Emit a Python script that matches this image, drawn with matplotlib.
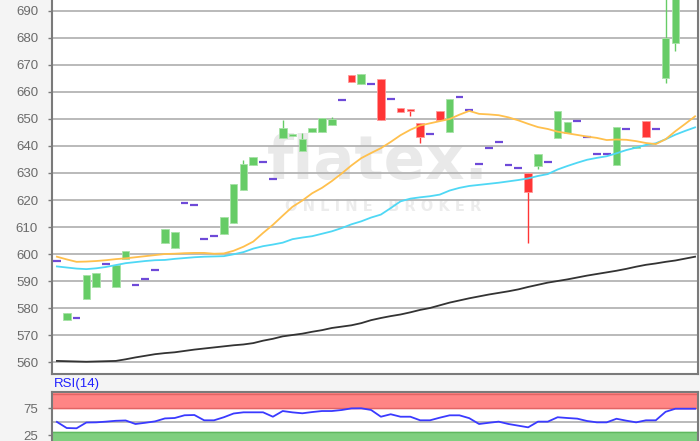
import numpy as np
import matplotlib
matplotlib.use("Agg")
import matplotlib.pyplot as plt

# =====================================================================
# DADOS
# =====================================================================
# OHLC por pregão; barras "traço" (o == h == l == c) viram traços roxos
opens = [597.5, 575.6, 576.4, 583.3, 587.9, 596.2, 587.9, 598.1, 588.4, 590.7,
         594.0, 604.0, 602.1, 618.8, 618.1, 605.6, 606.6, 607.4, 611.4, 623.7,
         633.0, 634.1, 627.9, 643.1, 643.8, 638.3, 645.3, 645.0, 647.8, 657.0,
         666.3, 663.0, 663.0, 664.8, 657.4, 654.2, 653.7, 648.6, 644.6, 653.0,
         645.3, 658.0, 653.2, 633.5, 639.3, 641.3, 633.0, 632.0, 630.1, 632.6,
         634.1, 643.1, 644.7, 649.4, 643.2, 636.9, 636.9, 633.0, 646.2, 639.4,
         649.3, 646.2, 665.1, 678.0]
highs = [597.5, 578.0, 576.4, 592.2, 592.8, 596.2, 596.0, 601.0, 588.4, 590.7,
         594.0, 609.1, 608.0, 618.8, 618.1, 605.6, 606.6, 613.6, 626.0, 634.8,
         636.0, 634.1, 627.9, 649.6, 644.3, 644.7, 646.5, 650.5, 650.6, 657.0,
         666.3, 666.7, 663.0, 664.8, 657.4, 654.2, 653.7, 648.6, 644.6, 653.0,
         657.3, 658.0, 653.2, 633.5, 639.3, 641.3, 633.0, 632.0, 630.1, 636.9,
         634.1, 653.0, 649.0, 649.4, 643.2, 636.9, 636.9, 647.2, 646.2, 640.1,
         649.3, 646.2, 697.0, 705.0]
lows = [597.5, 575.6, 576.4, 583.3, 587.9, 596.2, 587.9, 598.1, 588.4, 590.7,
        594.0, 604.0, 602.1, 618.8, 618.1, 605.6, 606.6, 607.4, 611.4, 623.7,
        633.0, 634.1, 627.9, 643.1, 643.8, 638.3, 645.3, 645.0, 647.8, 657.0,
        663.6, 663.0, 663.0, 649.6, 657.4, 652.5, 651.1, 641.0, 644.6, 649.6,
        645.3, 658.0, 653.2, 633.5, 639.3, 641.3, 633.0, 632.0, 604.2, 631.4,
        634.1, 643.1, 644.7, 649.4, 643.2, 636.9, 636.9, 633.0, 646.2, 639.4,
        643.4, 646.2, 663.2, 675.0]
closes = [597.5, 578.0, 576.4, 592.2, 592.8, 596.2, 596.0, 601.0, 588.4, 590.7,
          594.0, 609.1, 608.0, 618.8, 618.1, 605.6, 606.6, 613.6, 626.0, 633.2,
          636.0, 634.1, 627.9, 646.5, 644.3, 642.7, 646.5, 650.5, 649.9, 657.0,
          663.6, 666.7, 663.0, 649.6, 657.4, 652.5, 653.1, 643.4, 644.6, 649.6,
          657.3, 658.0, 653.2, 633.5, 639.3, 641.3, 633.0, 632.0, 622.9, 636.9,
          634.1, 653.0, 649.0, 649.4, 643.2, 636.9, 636.9, 647.2, 646.2, 640.1,
          643.4, 646.2, 679.9, 700.0]

# médias móveis (66 pontos, os dois últimos pregões estão fora da escala)
ma_orange = [599.0, 598.0, 597.1, 597.2, 597.4, 597.7, 598.1, 598.4, 598.8, 599.2,
             599.6, 600.0, 600.1, 600.3, 600.4, 600.4, 600.1, 600.2, 601.2, 602.7,
             604.6, 607.8, 610.8, 614.2, 617.5, 619.8, 622.5, 624.5, 627.0, 629.8,
             632.8, 635.5, 637.4, 639.2, 641.5, 644.0, 646.0, 647.6, 648.4, 649.2,
             650.0, 651.6, 653.0, 651.9, 651.7, 651.4, 650.6, 649.5, 648.2, 647.0,
             646.3, 645.3, 644.7, 644.1, 643.5, 643.0, 642.2, 642.4, 642.3, 641.8,
             641.1, 640.7, 642.5, 645.5, 648.2, 651.0]
ma_cyan = [595.4, 595.0, 594.6, 594.4, 594.7, 595.2, 595.9, 596.6, 597.0, 597.4,
           597.7, 597.8, 598.2, 598.5, 598.8, 599.0, 599.1, 599.2, 599.9, 600.7,
           602.0, 602.9, 603.5, 604.2, 605.5, 606.1, 606.6, 607.5, 608.4, 609.6,
           611.0, 612.1, 613.5, 614.6, 617.0, 619.5, 620.5, 621.0, 621.4, 622.0,
           623.5, 624.5, 625.2, 625.6, 626.0, 626.4, 626.9, 627.4, 628.0, 628.9,
           629.6, 631.3, 632.6, 633.8, 634.9, 635.6, 636.2, 637.3, 638.5, 639.4,
           640.4, 641.0, 642.5, 644.2, 645.6, 646.9]
ma_black = [560.4, 560.3, 560.2, 560.1, 560.2, 560.3, 560.4, 561.0, 561.7, 562.3,
            562.9, 563.3, 563.6, 564.1, 564.6, 565.0, 565.4, 565.8, 566.2, 566.5,
            567.0, 567.9, 568.6, 569.5, 570.0, 570.5, 571.2, 571.8, 572.6, 573.1,
            573.6, 574.4, 575.5, 576.3, 577.0, 577.6, 578.4, 579.3, 580.0, 581.0,
            582.0, 582.8, 583.6, 584.3, 585.0, 585.6, 586.2, 586.9, 587.8, 588.6,
            589.4, 590.0, 590.6, 591.3, 592.0, 592.6, 593.2, 593.8, 594.5, 595.3,
            596.0, 596.5, 597.1, 597.6, 598.3, 599.0]

rsi = [49.6, 38.2, 37.7, 48.5, 48.8, 50.1, 51.7, 52.3, 45.7, 48.0,
       50.6, 56.1, 56.9, 62.0, 62.5, 52.6, 52.6, 58.3, 65.3, 67.5,
       67.5, 67.5, 59.3, 69.9, 67.4, 65.7, 68.0, 69.9, 69.9, 71.8,
       74.8, 75.0, 71.9, 59.3, 63.9, 59.3, 59.3, 52.6, 52.6, 57.5,
       61.9, 61.9, 56.6, 45.7, 48.0, 50.1, 45.7, 42.6, 39.5, 50.1,
       50.1, 58.3, 56.9, 55.7, 51.3, 48.8, 48.8, 55.5, 51.9, 48.8,
       52.6, 52.6, 68.5, 74.2, 74.2, 74.2]

main_ticks = list(range(560, 700, 10))
rsi_ticks = [25, 75]

# =====================================================================
# ESTILO
# =====================================================================
plt.rcParams["font.family"] = ["Liberation Sans", "DejaVu Sans"]

BG = "#f4f4f4"
GRID = "#b4b4b4"
SPINE = "#7a7a7a"
TXT = "#6a6a6a"
GREEN = "#66cc66"
GREEN_EDGE = "#a8e2a8"
RED = "#ff3535"
RED_EDGE = "#ff9a9a"
PURPLE = "#6e4ad8"

fig = plt.figure(figsize=(7, 4.41), dpi=100, facecolor=BG)
ax = fig.add_axes([52 / 700, 67 / 441, 646 / 700, 374 / 441])
rsi_ax = fig.add_axes([52 / 700, 0, 646 / 700, 49 / 441])

for a in (ax, rsi_ax):
    a.set_facecolor("white")
    for side in ("left", "right", "bottom", "top"):
        a.spines[side].set_color(SPINE)
        a.spines[side].set_linewidth(1.5)
    a.tick_params(axis="y", colors=SPINE, labelcolor=TXT, labelsize=9.5,
                  length=3, width=1, pad=7)
    a.set_xticks([])
    a.set_xlim(-0.5, 65.3)

ax.spines["top"].set_visible(False)
rsi_ax.spines["bottom"].set_visible(False)

# =====================================================================
# PAINEL PRINCIPAL
# =====================================================================
ax.set_ylim(555.56, 694.07)
ax.set_yticks(main_ticks)
for t in main_ticks:
    ax.axhline(t, color=GRID, lw=1.3, zorder=1)

# marca d'água
ax.text(0.505, 0.565, "flatex.", transform=ax.transAxes, ha="center",
        va="center", fontsize=44, fontweight="bold", color="#e9e9e9",
        family="DejaVu Sans", zorder=0.5)
ax.text(0.513, 0.449, "O N L I N E   B R O K E R", transform=ax.transAxes,
        ha="center", va="center", fontsize=10.5, fontweight="bold",
        color="#ececec", family="DejaVu Sans", zorder=0.5)

x = np.arange(len(opens))
o = np.array(opens)
h = np.array(highs)
l = np.array(lows)
c = np.array(closes)

flat = (o == c) & (h == l)
up = (c > o) & ~flat
down = (c < o) & ~flat

ax.vlines(x[up], l[up], h[up], color=GREEN, lw=1, zorder=2)
ax.vlines(x[down], l[down], h[down], color=RED, lw=1, zorder=2)
ax.bar(x[up], c[up] - o[up], bottom=o[up], width=0.78, color=GREEN,
       edgecolor=GREEN_EDGE, linewidth=0.6, zorder=3)
ax.bar(x[down], o[down] - c[down], bottom=c[down], width=0.78, color=RED,
       edgecolor=RED_EDGE, linewidth=0.6, zorder=3)
ax.hlines(o[flat], x[flat] - 0.4, x[flat] + 0.4, color=PURPLE, lw=1.6, zorder=3)

xm = np.arange(len(ma_orange))
ax.plot(xm, ma_black, color="#333333", lw=1.3, zorder=4)
ax.plot(xm, ma_cyan, color="#4fd8f5", lw=1.3, zorder=4)
ax.plot(xm, ma_orange, color="#ffc04d", lw=1.3, zorder=4)

# =====================================================================
# PAINEL RSI
# =====================================================================
rsi_ax.set_ylim(14, 105.4)
rsi_ax.set_yticks(rsi_ticks)
rsi_ax.axhspan(75, 105.4, color="#ff8585", zorder=1)
rsi_ax.axhline(75, color="#e26464", lw=1, zorder=1.5)
rsi_ax.axhline(101.5, color="#e26464", lw=1, zorder=1.5)
rsi_ax.axhspan(0, 30.5, color="#7fcf7f", zorder=1)
rsi_ax.axhline(30.5, color="#5fb85f", lw=1, zorder=1.5)
rsi_ax.axhline(50, color=GRID, lw=1.3, zorder=1)
rsi_ax.plot(np.arange(len(rsi)), rsi, color="#3a3aff", lw=1.3, zorder=3)

fig.text(54 / 700, 1 - 384 / 441, "RSI(14)", color="#2020ff", fontsize=9.5,
         ha="left", va="center")

fig.savefig("out.png", dpi=100, facecolor=fig.get_facecolor())
